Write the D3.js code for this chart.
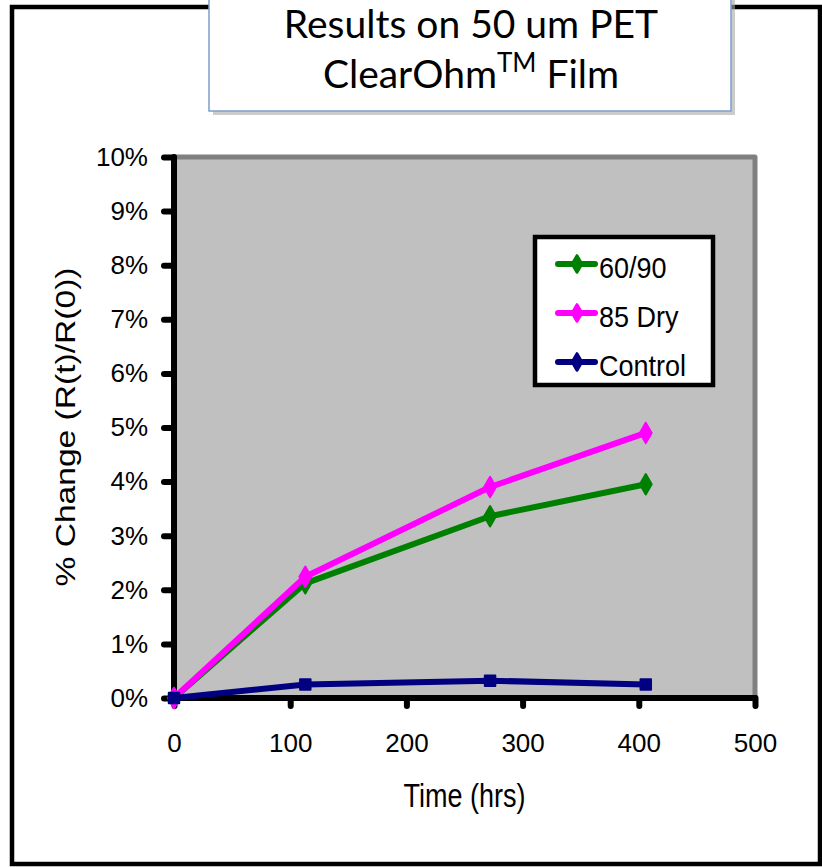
<!DOCTYPE html>
<html>
<head>
<meta charset="utf-8">
<style>
  body { margin: 0; background: #fff; }
  svg { display: block; }
  .tick text { font-family: "Liberation Sans", Arial, sans-serif; font-size: 26px; fill: #000; }
</style>
</head>
<body>
<script src="https://d3js.org/d3.v7.min.js"></script>
<script>

var width = 822,
    height = 867;

// plot area
var margin = {"top": 157, "right": 67, "bottom": 169, "left": 174};
var pw = width - margin.left - margin.right,
    ph = height - margin.top - margin.bottom;

// data
var hours = [0, 113, 272, 406];
var series = ["60/90", "85 Dry", "Control"];
var v6090 = [0, 2.12, 3.36, 3.95];
var vDry = [0, 2.24, 3.90, 4.90];
var vControl = [0, 0.25, 0.32, 0.25];
var colors = ["#008000", "#FF00FF", "#000080"];
var xTicks = [0, 100, 200, 300, 400, 500];
var yTicks = [0, 1, 2, 3, 4, 5, 6, 7, 8, 9, 10];

var values = [v6090, vDry, vControl];

var svg = d3.select("body").append("svg")
    .attr("width", width)
    .attr("height", height);

// outer frame
svg.append("rect")
    .attr("x", 12).attr("y", 7)
    .attr("width", 808).attr("height", 857)
    .attr("fill", "#fff")
    .attr("stroke", "#000")
    .attr("stroke-width", 4.5);

var x = d3.scaleLinear().domain([0, 500]).range([0, pw]);
var y = d3.scaleLinear().domain([0, 10]).range([ph, 0]);

var g = svg.append("g")
    .attr("transform", "translate(" + margin.left + "," + margin.top + ")");

// gray plot background with the gray top/right border
g.append("rect")
    .attr("x", 0).attr("y", 0)
    .attr("width", pw).attr("height", ph)
    .attr("fill", "#C0C0C0");

g.append("path")
    .attr("d", "M0,0 H" + pw + " V" + ph)
    .attr("fill", "none")
    .attr("stroke", "#808080")
    .attr("stroke-width", 5)
    .attr("stroke-linejoin", "round");

// axes
var yAxis = g.append("g")
    .call(d3.axisLeft(y).tickValues(yTicks).tickSize(10).tickPadding(16)
      .tickFormat(function(d) { return d + "%"; }));

var xAxis = g.append("g")
    .attr("transform", "translate(0," + ph + ")")
    .call(d3.axisBottom(x).tickValues(xTicks).tickSize(8).tickPadding(28));

[yAxis, xAxis].forEach(function(a) {
  a.select(".domain").attr("stroke", "#000").attr("stroke-width", 6).attr("stroke-linecap", "round");
  a.selectAll(".tick line").attr("stroke", "#000").attr("stroke-width", 6).attr("stroke-linecap", "round");
});
yAxis.select(".domain").attr("d", "M0,0 V" + ph);
xAxis.select(".domain").attr("d", "M0,0 H" + pw);

// lines
var line = d3.line()
    .x(function(d, i) { return x(hours[i]); })
    .y(function(d) { return y(d); });

var diamond = d3.symbol().type(d3.symbolDiamond).size(120);
var square = d3.symbol().type(d3.symbolSquare).size(110);

values.forEach(function(vals, k) {
  g.append("path")
    .datum(vals)
    .attr("d", line)
    .attr("fill", "none")
    .attr("stroke", colors[k])
    .attr("stroke-width", 6)
    .attr("stroke-linejoin", "round");

  g.selectAll(".m" + k)
    .data(vals)
    .enter().append("path")
    .attr("class", "m" + k)
    .attr("transform", function(d, i) { return "translate(" + x(hours[i]) + "," + y(d) + ")"; })
    .attr("d", k == 2 ? square : diamond)
    .attr("fill", colors[k])
    .attr("stroke", colors[k])
    .attr("stroke-width", 2)
    .attr("stroke-linejoin", "round");
});

// legend
var legend = svg.append("g")
    .attr("transform", "translate(535,237)");

legend.append("rect")
    .attr("width", 178).attr("height", 148)
    .attr("fill", "#fff")
    .attr("stroke", "#000")
    .attr("stroke-width", 4.5);

series.forEach(function(name, k) {
  var ry = 27 + k * 49;
  legend.append("line")
    .attr("x1", 23).attr("x2", 60)
    .attr("y1", ry).attr("y2", ry)
    .attr("stroke", colors[k])
    .attr("stroke-width", 6)
    .attr("stroke-linecap", "round");
  legend.append("path")
    .attr("transform", "translate(42," + ry + ")")
    .attr("d", d3.symbol().type(d3.symbolDiamond).size(80))
    .attr("fill", colors[k])
    .attr("stroke", colors[k])
    .attr("stroke-width", 3)
    .attr("stroke-linejoin", "round");
  legend.append("text")
    .attr("transform", "translate(64," + (ry + 14) + ") scale(1,1.1)")
    .attr("font-family", "Liberation Sans, Arial, sans-serif")
    .attr("font-size", 27)
    .text(name);
});

// axis titles
svg.append("text")
    .attr("transform", "translate(" + (margin.left + pw / 2) + ",807) scale(1,1.2)")
    .attr("text-anchor", "middle")
    .attr("font-family", "Liberation Sans, Arial, sans-serif")
    .attr("font-size", 27)
    .text("Time (hrs)");

svg.append("text")
    .attr("transform", "translate(75,427) rotate(-90) scale(1.2,1)")
    .attr("text-anchor", "middle")
    .attr("font-family", "Liberation Sans, Arial, sans-serif")
    .attr("font-size", 28)
    .text("% Change (R(t)/R(0))");

// title box
var tb = svg.append("g");
tb.append("rect")
    .attr("x", 213).attr("y", -10)
    .attr("width", 522).attr("height", 125)
    .attr("fill", "#aaa")
    .attr("opacity", 0.6);
tb.append("rect")
    .attr("x", 209).attr("y", -10)
    .attr("width", 522).attr("height", 121)
    .attr("fill", "#fff")
    .attr("stroke", "#7E9FCB")
    .attr("stroke-width", 1.5);

var t1 = tb.append("text")
    .attr("x", 471).attr("y", 38)
    .attr("text-anchor", "middle")
    .attr("font-family", "Lato, sans-serif")
    .attr("font-size", 39)
    .text("Results on 50 um PET");

var t2 = tb.append("text")
    .attr("x", 471).attr("y", 88)
    .attr("text-anchor", "middle")
    .attr("font-family", "Lato, sans-serif")
    .attr("font-size", 39);
t2.append("tspan").text("ClearOhm");
t2.append("tspan").attr("font-size", 26).attr("dy", -16).text("TM");
t2.append("tspan").attr("dy", 16).text(" Film");

</script>
</body>
</html>
